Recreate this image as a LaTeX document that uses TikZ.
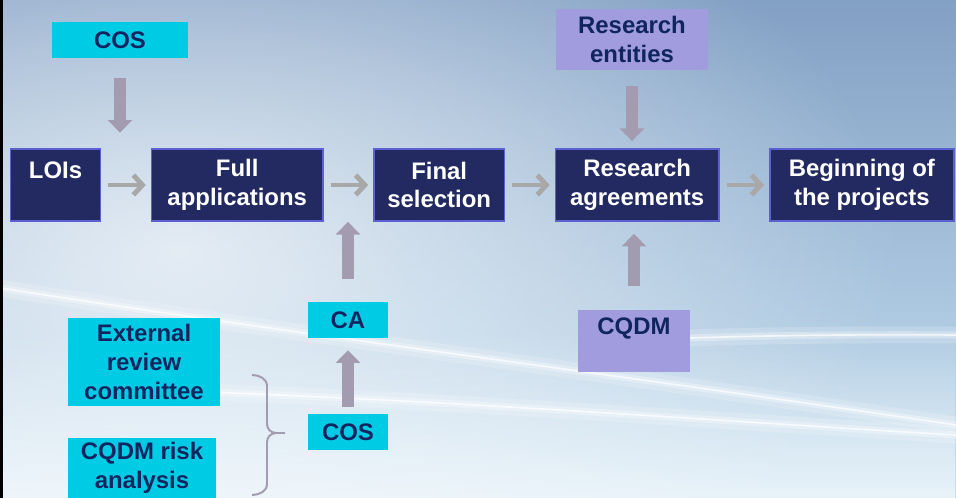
\documentclass[tikz,border=0pt]{standalone}
\usepackage{fontspec}
\setmainfont{Liberation Sans}
\usetikzlibrary{positioning,arrows.meta,fadings}
\definecolor{stepnavy}{HTML}{232A61}
\definecolor{stepedge}{HTML}{5C60D0}
\definecolor{actorcyan}{HTML}{00CBE5}
\definecolor{actorlilac}{HTML}{A09CDE}
\definecolor{inknavy}{HTML}{10255F}
\definecolor{flowgrey}{HTML}{A8A8A8}
\definecolor{liftgrey}{HTML}{A39BAF}
\definecolor{skytop}{HTML}{82A0C4}
\definecolor{skymid}{HTML}{84B7DF}
\definecolor{skylow}{HTML}{C6E0F1}
\tikzfading[name=glowfade, inner color=transparent!0, outer color=transparent!100]
\tikzfading[name=risefade, top color=transparent!100, bottom color=transparent!0]
\begin{document}
\begin{tikzpicture}[x=0.025cm, y=-0.025cm, node distance=1.235cm,
    every node/.style={font=\fontsize{17}{20.5}\selectfont\bfseries, align=center, inner sep=0pt},
    stage/.style={fill=stepnavy, draw=stepedge, line width=1.2pt, text=white, minimum height=1.8cm},
    actor/.style={fill=actorcyan, text=inknavy},
    partner/.style={fill=actorlilac, text=inknavy},
    flow/.style={draw=flowgrey, line width=3.5pt, -{Straight Barb[length=6.5pt,width=14pt]}, shorten <=5pt, shorten >=3.5pt},
    lift/.style={draw=liftgrey, line width=8.7pt, -{Triangle[length=9pt,width=17pt]}},
    swoosh/.style={white, line cap=round}]
  % background
  \useasboundingbox (0,0) rectangle (956,498);
  \shade[top color=skytop, middle color=skymid, bottom color=skylow] (0,0) rectangle (956,498);
  \fill[white, opacity=0.7, path fading=glowfade] (180,250) ellipse (720 and 420);
  \fill[white, opacity=0.6, path fading=risefade] (0,330) rectangle (956,498);
  \foreach \w/\o in {12pt/0.18, 5pt/0.3, 1.2pt/0.7} {
    \draw[swoosh, line width=\w, opacity=\o] (0,288) .. controls (300,335) and (600,372) .. (956,425);
    \draw[swoosh, line width=\w, opacity=\o] (150,390) .. controls (450,400) and (700,420) .. (956,435);
    \draw[swoosh, line width=\w, opacity=\o] (600,342) .. controls (700,336) and (850,334) .. (956,335);
  }
  \fill[black] (0,0) rectangle (3,498);
  % main line
  \node[stage, minimum width=2.25cm] (lois) at (55.5,185) {LOIs\\~};
  \node[stage, minimum width=4.28cm, right=of lois] (full) {Full\\applications};
  \node[stage, minimum width=3.26cm, right=of full] (final) {Final\\selection};
  \node[stage, minimum width=4.08cm, right=of final] (agree) {Research\\agreements};
  \node[stage, minimum width=4.6cm, right=of agree] (start) {Beginning of\\the projects};
  \draw[flow] (lois) -- (full);
  \draw[flow] (full) -- (final);
  \draw[flow] (final) -- (agree);
  \draw[flow] (agree) -- (start);
  % who does what
  \node[actor, minimum width=3.4cm, minimum height=0.9cm] (cosin) at (120,40) {COS};
  \node[partner, minimum width=3.8cm, minimum height=1.525cm] (labs) at (632,39.5) {Research\\entities};
  \node[partner, minimum width=2.8cm, minimum height=1.55cm] (cqdm) at (634,341) {CQDM\\~};
  \node[actor, minimum width=2cm, minimum height=0.9cm] (ca) at (348,320) {CA};
  \node[actor, minimum width=2cm, minimum height=0.9cm] (cosout) at (348,432) {COS};
  \node[actor, minimum width=3.8cm, minimum height=2.2cm] (review) at (144,362) {External\\review\\committee};
  \node[actor, minimum width=3.7cm, minimum height=1.5cm] (risk) at (142,468) {CQDM risk\\analysis};
  \coordinate (gapa) at (cosin.south |- lois.north);
  \coordinate (gapb) at (ca.north |- full.south);
  \draw[lift, shorten <=14pt, shorten >=11pt] (cosin.south) -- (gapa);
  \draw[lift, shorten <=11.3pt, shorten >=5pt] (labs.south) -- (labs.south |- agree.north);
  \draw[lift, shorten <=17pt, shorten >=8.5pt] (cqdm.north) -- (cqdm.north |- agree.south);
  \draw[lift, shorten <=16.3pt] (ca.north) -- (gapb);
  \draw[lift, shorten <=5pt, shorten >=8.5pt] (cosout.north) -- (ca.south);
  % bracket
  \draw[liftgrey, line width=1.4pt] (252,375) to[out=0,in=90] (267,386) -- (267,424)
    to[out=-90,in=180] (276,433) -- (285,433);
  \draw[liftgrey, line width=1.4pt] (276,433) to[out=180,in=90] (267,442) -- (267,484)
    to[out=-90,in=0] (252,495);
\end{tikzpicture}
\end{document}
